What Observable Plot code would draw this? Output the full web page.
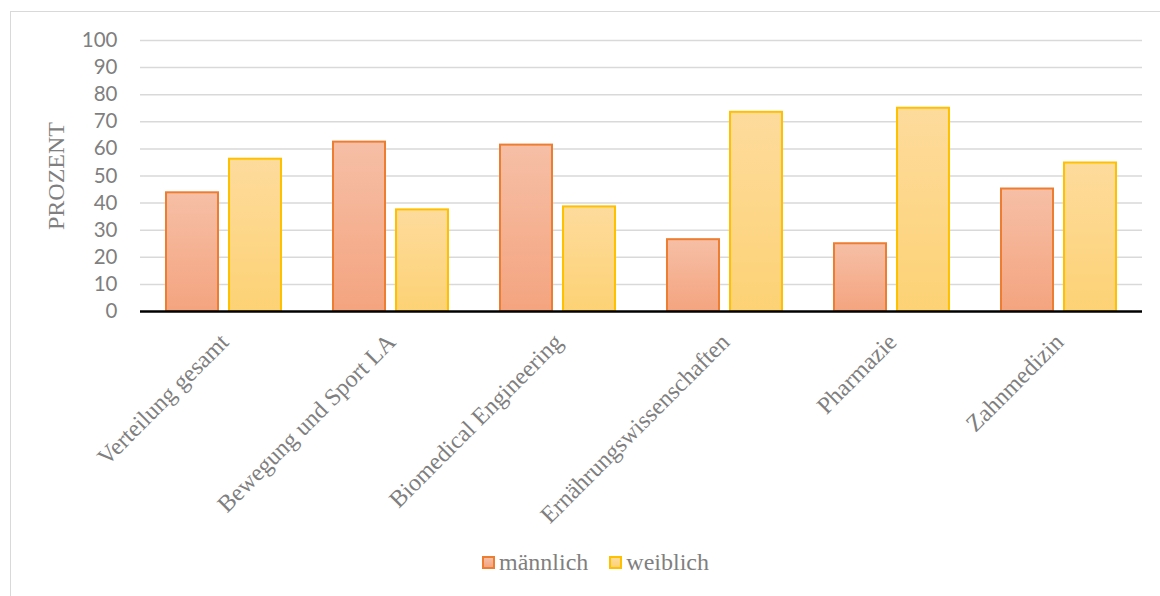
<!DOCTYPE html>
<html>
<head>
<meta charset="utf-8">
<script src="https://cdn.jsdelivr.net/npm/d3@7"></script>
<script src="https://cdn.jsdelivr.net/npm/@observablehq/plot@0.6"></script>
<style>
  html, body { margin: 0; padding: 0; background: #fff; }
  #wrap { position: relative; width: 1160px; height: 596px; overflow: hidden; }
  #frame { position: absolute; left: 10px; top: 11px; width: 1160px; height: 600px; border: 1px solid #d9d9d9; box-sizing: border-box; pointer-events: none; }
  #chart { position: absolute; left: 0; top: 0; }
  #legend { position: absolute; left: 482px; top: 549px; display: flex; gap: 21px;
            font-family: 'Liberation Serif', 'Times New Roman', serif; font-size: 24px; color: #7f7f7f; }
  .item { display: flex; align-items: center; }
  .sw { width: 9px; height: 9px; margin-right: 4px; border: 2px solid; }
</style>
</head>
<body>
<div id="wrap">
  <div id="chart"></div>
  <div id="frame"></div>
  <div id="legend"></div>
</div>
<script>
const categories = ["Verteilung gesamt", "Bewegung und Sport LA", "Biomedical Engineering", "Ernährungswissenschaften", "Pharmazie", "Zahnmedizin"];
const seriesNames = ["männlich", "weiblich"];
const maleValues = [43.8, 62.5, 61.4, 26.5, 25.0, 45.2];
const femaleValues = [56.2, 37.5, 38.6, 73.5, 75.0, 54.8];
const yTicks = [0, 10, 20, 30, 40, 50, 60, 70, 80, 90, 100];
const yLabel = "PROZENT";

const styles = {
  "männlich": {top: "#F6BFA6", bottom: "#F4A47F", stroke: "#ED7D31", id: "gm"},
  "weiblich": {top: "#FDDB9C", bottom: "#FDD275", stroke: "#FFC000", id: "gw"}
};

const data = categories.flatMap((c, i) => [
  {cat: c, sex: seriesNames[0], v: maleValues[i]},
  {cat: c, sex: seriesNames[1], v: femaleValues[i]}
]);

const plot = Plot.plot({
  width: 1160,
  height: 540,
  marginLeft: 138,
  marginRight: 16,
  marginTop: 40,
  marginBottom: 229,
  fx: {domain: categories, padding: 0, axis: null, label: null},
  x: {domain: seriesNames, paddingInner: 0.172, paddingOuter: 0.396, axis: null, label: null},
  y: {domain: [0, 100], axis: null, label: null},
  marks: [
    Plot.ruleY(yTicks.filter(t => t > 0), {stroke: "#d9d9d9", strokeWidth: 1.5}),
    ...seriesNames.map(s => Plot.barY(data.filter(d => d.sex === s), {
      fx: "cat", x: "sex", y: "v",
      fill: styles[s].bottom, stroke: styles[s].stroke, strokeWidth: 2,
      className: "bars-" + styles[s].id
    })),
    Plot.ruleY([0], {stroke: "#000", strokeWidth: 2.5}),
    Plot.axisY({ticks: yTicks, tickSize: 0, tickPadding: 23, fontSize: 20.5, fontFamily: "Lato, sans-serif", color: "#7f7f7f", label: null}),
    Plot.text([{cat: categories[0]}], {
      fx: "cat", text: () => yLabel, frameAnchor: "left", textAnchor: "middle", rotate: -90, dx: -84,
      fontFamily: "Liberation Serif, serif", fontSize: 24, fill: "#7f7f7f"
    }),
    Plot.text(categories.map(c => ({cat: c})), {
      fx: "cat", text: "cat", frameAnchor: "bottom", rotate: -45, textAnchor: "end", lineAnchor: "top",
      dx: -6, dy: 20, fontFamily: "Liberation Serif, serif", fontSize: 24, fill: "#7f7f7f"
    })
  ]
});

// gradients
const ns = "http://www.w3.org/2000/svg";
const defs = document.createElementNS(ns, "defs");
for (const s of seriesNames) {
  const st = styles[s];
  const g = document.createElementNS(ns, "linearGradient");
  g.setAttribute("id", st.id);
  g.setAttribute("x1", "0"); g.setAttribute("y1", "0"); g.setAttribute("x2", "0"); g.setAttribute("y2", "1");
  const s1 = document.createElementNS(ns, "stop"); s1.setAttribute("offset", "0"); s1.setAttribute("stop-color", st.top);
  const s2 = document.createElementNS(ns, "stop"); s2.setAttribute("offset", "1"); s2.setAttribute("stop-color", st.bottom);
  g.appendChild(s1); g.appendChild(s2); defs.appendChild(g);
}
plot.insertBefore(defs, plot.firstChild);
for (const s of seriesNames) {
  d3.select(plot).selectAll(".bars-" + styles[s].id + " rect").attr("fill", `url(#${styles[s].id})`);
  d3.select(plot).selectAll(".bars-" + styles[s].id).attr("fill", `url(#${styles[s].id})`);
}
document.getElementById("chart").appendChild(plot);

// legend
const legend = document.getElementById("legend");
for (const s of seriesNames) {
  const st = styles[s];
  const item = document.createElement("div");
  item.className = "item";
  const sw = document.createElement("span");
  sw.className = "sw";
  sw.style.borderColor = st.stroke;
  sw.style.background = `linear-gradient(${st.top}, ${st.bottom})`;
  const t = document.createElement("span");
  t.textContent = s;
  item.appendChild(sw); item.appendChild(t);
  legend.appendChild(item);
}
</script>
</body>
</html>
